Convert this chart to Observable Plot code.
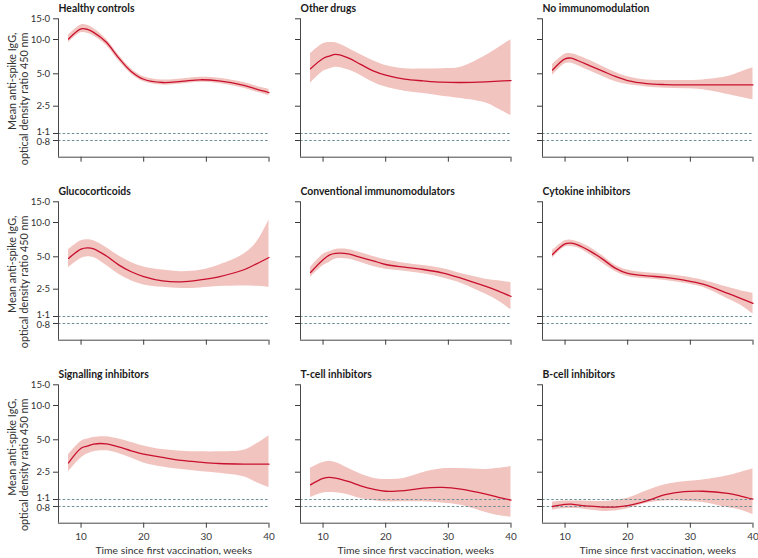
<!DOCTYPE html>
<html>
<head>
<meta charset="utf-8">
<script src="https://cdn.jsdelivr.net/npm/d3@7"></script>
<script src="https://cdn.jsdelivr.net/npm/@observablehq/plot@0.6"></script>
<style>
  html, body { margin: 0; padding: 0; background: #fff; }
  #root { position: relative; width: 758px; height: 558px; overflow: hidden; font-family: Lato, sans-serif; }
  .panel { position: absolute; }
</style>
</head>
<body>
<div id="root"></div>
<script>
// ---- data ----
const weeks = [8, 10, 11, 12, 14, 16, 18, 20, 23, 26, 29, 32, 36, 38, 40];

const healthyMean  = [10.1, 12.3, 12.2, 11.5, 9.5, 6.9, 5.25, 4.45, 4.15, 4.25, 4.4, 4.3, 3.9, 3.6, 3.35];
const healthyUpper = [10.9, 13.3, 13.2, 12.4, 10.1, 7.3, 5.55, 4.7, 4.38, 4.48, 4.65, 4.55, 4.15, 3.84, 3.6];
const healthyLower = [9.4, 11.4, 11.3, 10.7, 8.9, 6.5, 4.97, 4.22, 3.93, 4.03, 4.17, 4.07, 3.67, 3.38, 3.12];

const otherMean  = [5.53, 6.81, 7.15, 7.39, 6.9, 6.04, 5.31, 4.86, 4.46, 4.3, 4.18, 4.15, 4.21, 4.27, 4.33];
const otherUpper = [7.49, 9.16, 9.4, 9.35, 8.4, 7.34, 6.5, 5.91, 5.53, 5.5, 5.55, 5.72, 7.24, 8.46, 9.95];
const otherLower = [4.09, 5.24, 5.5, 5.72, 5.42, 4.83, 4.18, 3.76, 3.45, 3.28, 3.1, 2.95, 2.68, 2.3, 1.88];

const noneMean  = [5.4, 6.77, 6.86, 6.54, 5.87, 5.28, 4.73, 4.33, 4.06, 3.97, 3.94, 3.94, 3.94, 3.94, 3.94];
const noneUpper = [6.04, 7.44, 7.49, 7.24, 6.54, 5.8, 5.17, 4.7, 4.39, 4.33, 4.33, 4.39, 4.72, 5.17, 5.64];
const noneLower = [4.83, 6.12, 6.2, 5.91, 5.28, 4.73, 4.24, 3.97, 3.78, 3.68, 3.63, 3.55, 3.21, 3.03, 2.86];

const glucoMean  = [4.83, 5.84, 5.99, 5.88, 5.1, 4.21, 3.63, 3.28, 2.99, 2.93, 3.05, 3.26, 3.79, 4.3, 4.93];
const glucoUpper = [5.76, 6.9, 7.05, 6.9, 6.04, 5.1, 4.43, 4.03, 3.76, 3.63, 3.74, 4.18, 5.28, 6.67, 10.5];
const glucoLower = [3.97, 4.83, 5.0, 4.93, 4.18, 3.45, 2.99, 2.74, 2.6, 2.54, 2.57, 2.65, 2.68, 2.66, 2.6];

const convMean  = [3.57, 4.69, 5.17, 5.35, 5.31, 4.93, 4.59, 4.24, 4.0, 3.81, 3.55, 3.17, 2.65, 2.36, 2.01];
const convUpper = [3.97, 5.24, 5.53, 5.79, 5.79, 5.42, 5.03, 4.69, 4.36, 4.15, 3.89, 3.5, 3.1, 2.99, 2.88];
const convLower = [3.22, 4.12, 4.43, 4.76, 4.76, 4.43, 4.06, 3.84, 3.68, 3.48, 3.19, 2.84, 2.14, 1.75, 1.34];

const cytoMean  = [5.24, 6.5, 6.58, 6.37, 5.61, 4.76, 3.92, 3.5, 3.33, 3.22, 3.03, 2.78, 2.2, 1.9, 1.63];
const cytoUpper = [5.64, 6.9, 7.0, 6.77, 6.04, 5.1, 4.18, 3.76, 3.55, 3.45, 3.28, 3.03, 2.6, 2.39, 2.22];
const cytoLower = [4.86, 6.08, 6.16, 5.99, 5.21, 4.36, 3.66, 3.28, 3.12, 3.01, 2.84, 2.6, 1.86, 1.55, 1.18];

const signalMean  = [3.05, 4.18, 4.36, 4.56, 4.59, 4.3, 3.95, 3.68, 3.43, 3.22, 3.1, 3.01, 2.97, 2.97, 2.97];
const signalUpper = [3.63, 4.83, 5.07, 5.24, 5.31, 5.07, 4.73, 4.39, 4.06, 3.92, 3.87, 3.87, 4.0, 4.56, 5.43];
const signalLower = [2.52, 3.38, 3.68, 3.87, 3.95, 3.73, 3.38, 3.05, 2.8, 2.65, 2.54, 2.43, 2.18, 1.84, 1.58];

const tcellMean  = [1.71, 2.07, 2.14, 2.09, 1.89, 1.66, 1.5, 1.41, 1.44, 1.55, 1.58, 1.5, 1.29, 1.17, 1.07];
const tcellUpper = [2.72, 3.08, 3.15, 3.08, 2.72, 2.36, 2.09, 2.01, 2.09, 2.48, 2.69, 2.7, 2.65, 2.72, 2.82];
const tcellLower = [1.17, 1.34, 1.36, 1.35, 1.27, 1.13, 1.04, 0.99, 0.99, 0.99, 0.94, 0.85, 0.61, 0.53, 0.49];

const bcellMean  = [0.8, 0.88, 0.89, 0.86, 0.81, 0.78, 0.78, 0.83, 1.03, 1.27, 1.39, 1.41, 1.32, 1.22, 1.11];
const bcellUpper = [0.98, 1.03, 1.03, 1.03, 1.02, 1.0, 1.05, 1.14, 1.42, 1.71, 1.87, 1.97, 2.24, 2.48, 2.67];
const bcellLower = [0.68, 0.73, 0.73, 0.73, 0.68, 0.64, 0.65, 0.72, 0.93, 1.03, 1.02, 0.96, 0.76, 0.68, 0.55];

const panelTitles = ["Healthy controls", "Other drugs", "No immunomodulation",
                     "Glucocorticoids", "Conventional immunomodulators", "Cytokine inhibitors",
                     "Signalling inhibitors", "T-cell inhibitors", "B-cell inhibitors"];

const yTicks = [0.8, 1.1, 2.5, 5, 10, 15];
const yTickLabels = ["0·8", "1·1", "2·5", "5·0", "10·0", "15·0"];
const xTicks = [10, 20, 30, 40];
const referenceLines = [1.1, 0.8];
const yLabelLines = ["Mean anti-spike IgG,", "optical density ratio 450 nm"];
const xLabel = "Time since first vaccination, weeks";

// ---- layout / style ----
const series = [
  [healthyMean, healthyUpper, healthyLower], [otherMean, otherUpper, otherLower], [noneMean, noneUpper, noneLower],
  [glucoMean, glucoUpper, glucoLower], [convMean, convUpper, convLower], [cytoMean, cytoUpper, cytoLower],
  [signalMean, signalUpper, signalLower], [tcellMean, tcellUpper, tcellLower], [bcellMean, bcellUpper, bcellLower]
];

const colLeft = [0, 241.5, 483.7];
const rowTop = [0, 182.8, 365.6];
const W = 274;
const axisX = 58, x40 = 268.5;
// axis value knots (piecewise-log axis as in the original) and their heights in each panel
const yDomain = [0.375, 0.8, 1.1, 2.5, 5, 10, 15];
const yRange  = [156.7, 140, 133, 105.7, 73.3, 39, 18.3];
const xDomain = [6.4, 40];

const bandColor = "#f2c4bf";
const lineColor = "#c8102e";
const axisColor = "#474747";
const dashColor = "#6f9097";
const textColor = "#333";

const root = document.getElementById("root");

// the two close ticks (1·1 and 0·8) are pushed slightly apart so their labels do not collide
const closePair = new Set([0.8, 1.1]);
const tickLabel = d => yTickLabels[yTicks.indexOf(d)];

series.forEach(([mean, upper, lower], k) => {
  const r = Math.floor(k / 3), c = k % 3;
  const H = r === 2 ? 192.4 : 183;
  const rows = weeks.map((w, i) => ({week: w, mean: mean[i], hi: upper[i], lo: lower[i]}));
  const marks = [
    Plot.areaY(rows, {x: "week", y1: "lo", y2: "hi", fill: bandColor, curve: "catmull-rom"}),
    Plot.ruleY(referenceLines, {stroke: dashColor, strokeWidth: 1, strokeDasharray: "2.6,2"}),
    Plot.lineY(rows, {x: "week", y: "mean", stroke: lineColor, strokeWidth: 1.3, curve: "catmull-rom"}),
    Plot.ruleX([xDomain[0]], {y1: yDomain[0], y2: yDomain[yDomain.length - 1], stroke: axisColor, strokeWidth: 1}),
    Plot.ruleY([yDomain[0]], {x1: xDomain[0], x2: xDomain[1], stroke: axisColor, strokeWidth: 1}),
    Plot.text([panelTitles[k]], {frameAnchor: "top-left", text: d => d, dx: 0, dy: 4 - yRange[6],
      textAnchor: "start", fontWeight: "bold", fontSize: 10.4, fill: "#1a1a1a"})
  ];
  if (c === 0) {
    const tickOpts = {y: d => d, text: tickLabel, frameAnchor: "left", dx: -8.5, textAnchor: "end", fontSize: 9.6, fill: textColor};
    marks.push(Plot.text(yTicks.filter(t => !closePair.has(t)), tickOpts));
    marks.push(Plot.text([1.1], {...tickOpts, dy: -1.8}));
    marks.push(Plot.text([0.8], {...tickOpts, dy: 1.8}));
    marks.push(Plot.text([yLabelLines[0]], {frameAnchor: "top-left", text: d => d, dx: 7.5 - axisX, dy: 32 - yRange[6],
      rotate: -90, textAnchor: "end", fontSize: 10.8, fill: textColor}));
    marks.push(Plot.text([yLabelLines[1]], {frameAnchor: "top-left", text: d => d, dx: 20 - axisX, dy: 32 - yRange[6],
      rotate: -90, textAnchor: "end", fontSize: 10.8, fill: textColor}));
  }
  if (r === 2) {
    marks.push(Plot.text([xLabel], {frameAnchor: "bottom", text: d => d, dx: 10, dy: 31, fontSize: 10.4, fill: textColor}));
  }
  const chart = Plot.plot({
    width: W, height: H,
    marginLeft: axisX, marginRight: W - x40, marginTop: yRange[6], marginBottom: H - yRange[0],
    style: {background: "transparent", fontFamily: "Lato, sans-serif", fontSize: "10px", color: "#3a3a3a", overflow: "visible"},
    x: {domain: xDomain, range: [axisX, x40], ticks: xTicks, tickSize: 5, tickPadding: 4.5,
        tickFormat: r === 2 ? (d => String(d)) : (() => ""), label: null},
    y: {type: "log", domain: yDomain, range: yRange, ticks: yTicks, tickSize: 5, tickPadding: 3,
        tickFormat: () => "", label: null},
    marks
  });
  const holder = document.createElement("div");
  holder.className = "panel";
  holder.style.left = colLeft[c] + "px";
  holder.style.top = rowTop[r] + "px";
  holder.style.width = W + "px";
  holder.appendChild(chart);
  root.appendChild(holder);
});
</script>
</body>
</html>
